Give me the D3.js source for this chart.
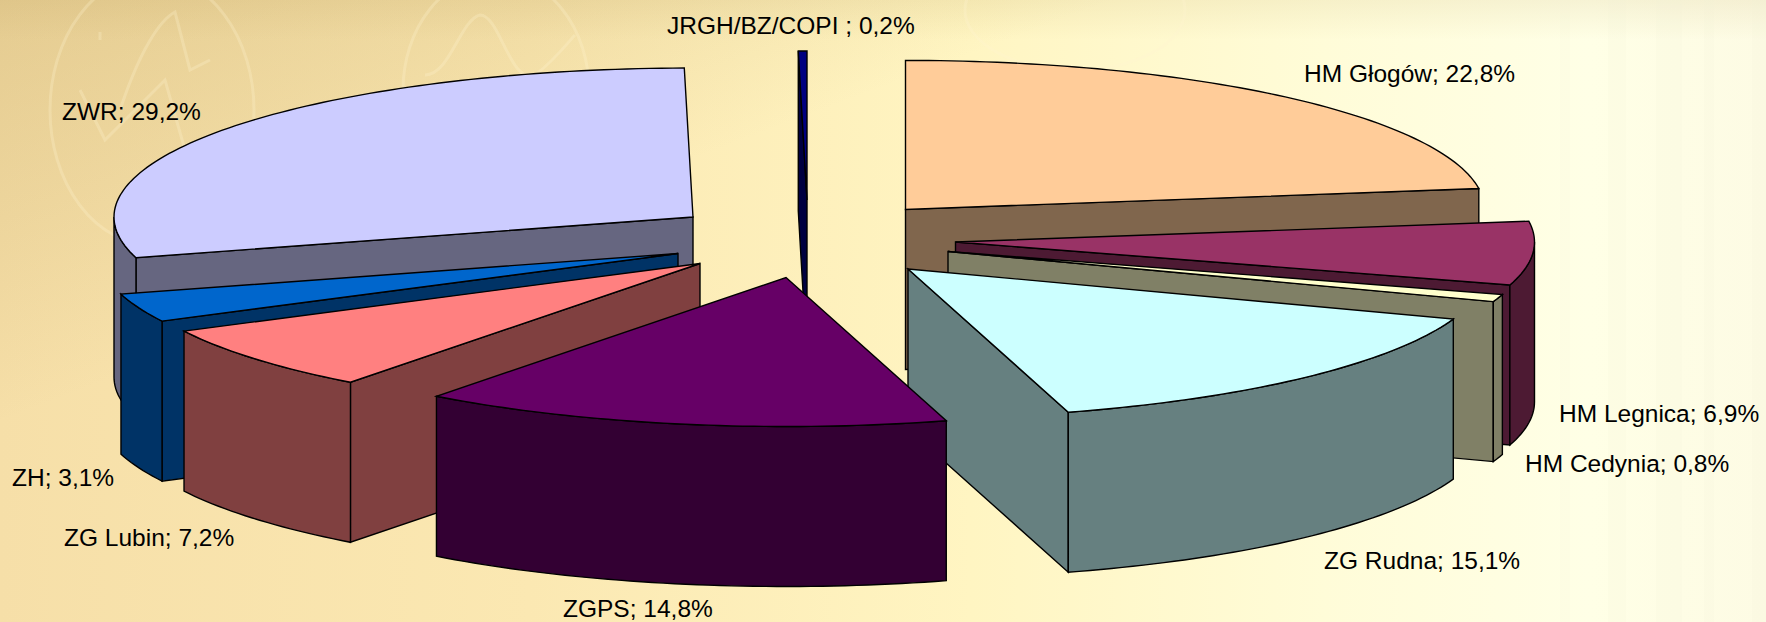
<!DOCTYPE html>
<html>
<head>
<meta charset="utf-8">
<script src="https://d3js.org/d3.v7.min.js"></script>
<style>
  html, body { margin: 0; padding: 0; overflow: hidden; }
  svg { display: block; }
</style>
</head>
<body>
<script>
const width = 1766;
const height = 622;

// chart data
const categories = ['HM Głogów', 'HM Legnica', 'HM Cedynia', 'ZG Rudna', 'ZGPS', 'ZG Lubin', 'ZH', 'ZWR', 'JRGH/BZ/COPI '];
const values = [22.8, 6.9, 0.8, 15.1, 14.8, 7.2, 3.1, 29.2, 0.24];
const topColors = ['#FFCC99', '#993366', '#FFFFCC', '#CCFFFF', '#660066', '#FF8080', '#0066CC', '#CCCCFF', '#000080'];

// where each exploded slice has its tip
const tipX = [905.5, 955.5, 948, 908, 786, 700, 678, 693, 807];
const tipY = [209.4, 242, 251.5, 269, 277.5, 263.5, 253.5, 217, 200];

// label placement (left edge, baseline)
const labelX = [1304, 1559, 1525, 1324, 563, 64, 12, 62, 667];
const labelY = [82, 422, 472, 569, 617, 546, 486, 120, 34];

const radiusX = d3.scaleLinear().domain([-1, 1]).range([-579, 579]);
const radiusY = d3.scaleLinear().domain([-1, 1]).range([-149, 149]);
const pieDepth = 160;
const percent = d3.format('.1f');

let svg = d3
  .select('body')
  .append('svg')
  .attr('width', width)
  .attr('height', height);

const defs = svg.append('defs');

// background: tan on the left going to pale yellow on the right
const bgH = defs.append('linearGradient').attr('id', 'bgH');
[[0, '#F6DFA8'], [0.3, '#FBE8B2'], [0.55, '#FFF5C2'], [0.75, '#FFFCD8'], [0.9, '#FFFFE6'], [1, '#FDFBE4']].forEach(function (s) {
  bgH.append('stop').attr('offset', s[0]).attr('stop-color', s[1]);
});
// darker corner at the top left
const bgC = defs
  .append('linearGradient')
  .attr('id', 'bgC')
  .attr('gradientUnits', 'userSpaceOnUse')
  .attr('x1', 0)
  .attr('y1', 0)
  .attr('x2', 140)
  .attr('y2', 370);
[[0, 0.28], [0.5, 0.15], [1, 0]].forEach(function (s) {
  bgC.append('stop').attr('offset', s[0]).attr('stop-color', '#B89A55').attr('stop-opacity', s[1]);
});
// thin darker band along the top edge
const bgT = defs.append('linearGradient').attr('id', 'bgT').attr('x2', 0).attr('y2', 1);
[[0, 0.12], [1, 0]].forEach(function (s) {
  bgT.append('stop').attr('offset', s[0]).attr('stop-color', '#B89A55').attr('stop-opacity', s[1]);
});
svg.append('rect').attr('width', width).attr('height', height).attr('fill', 'url(#bgH)');
svg.append('rect').attr('width', width).attr('height', height).attr('fill', 'url(#bgC)');
svg.append('rect').attr('width', width).attr('height', 40).attr('fill', 'url(#bgT)');

// faint watermark in the slide background
const mark = svg.append('g').attr('fill', 'none').attr('stroke', '#FFF6D0').attr('stroke-opacity', 0.28).attr('stroke-width', 3);
mark.append('ellipse').attr('cx', 152).attr('cy', 110).attr('rx', 102).attr('ry', 135);
mark.append('ellipse').attr('cx', 496).attr('cy', 90).attr('rx', 93).attr('ry', 115);
mark.append('path').attr('d', 'M100,32 L100,40 M120,110 C140,50 160,20 175,12 L190,70 L210,60 M80,90 L105,140 L165,80 L185,150');
mark.append('path').attr('d', 'M425,75 C450,75 460,20 480,15 C500,15 510,85 535,75 C555,60 570,40 575,35');
mark.append('ellipse').attr('cx', 1075).attr('cy', 10).attr('rx', 110).attr('ry', 60);

// faint vertical streaks on the right side
const streaks = svg.append('g').attr('fill', '#F2F0D4').attr('fill-opacity', 0.15);
d3.range(1560, 1766, 48).forEach(function (x, i) {
  streaks.append('rect').attr('x', x).attr('y', 0).attr('width', 10 + (i % 3) * 8).attr('height', height);
});

const pie = d3.pie().sort(null).startAngle(0).endAngle(2 * Math.PI);
const slices = pie(values).map(function (d, i) {
  return { i: i, a0: d.startAngle, a1: d.endAngle, cx: tipX[i], cy: tipY[i] };
});

const line = d3.line();
const rimX = (s, a) => s.cx + radiusX(Math.sin(a));
const rimY = (s, a) => s.cy + radiusY(-Math.cos(a));

function rimPoints(s, a0, a1, drop) {
  const n = Math.max(2, Math.ceil((a1 - a0) / 0.02));
  return d3.range(n + 1).map(function (k) {
    const a = a0 + ((a1 - a0) * k) / n;
    return [rimX(s, a), rimY(s, a) + drop];
  });
}

function radialSide(s, a) {
  return [[s.cx, s.cy], [rimX(s, a), rimY(s, a)], [rimX(s, a), rimY(s, a) + pieDepth], [s.cx, s.cy + pieDepth]];
}

// back to front, the slices further down the page cover the others
const order = slices.slice().sort((a, b) => a.cy - b.cy);

order.forEach(function (s) {
  const c = d3.rgb(topColors[s.i]);
  const side = d3.rgb(c.r / 2, c.g / 2, c.b / 2).formatHex();
  const g = svg
    .append('g')
    .attr('stroke', '#000')
    .attr('stroke-width', 1.4)
    .attr('stroke-linejoin', 'miter');

  // the cut faces, only when they look toward the viewer
  if (Math.sin(s.a0) < 0) {
    g.append('path').attr('d', line(radialSide(s, s.a0)) + 'Z').attr('fill', side);
  }
  if (Math.sin(s.a1) > 0) {
    g.append('path').attr('d', line(radialSide(s, s.a1)) + 'Z').attr('fill', side);
  }

  // the outer wall, front half of the ellipse only
  const w0 = Math.max(s.a0, Math.PI / 2);
  const w1 = Math.min(s.a1, (3 * Math.PI) / 2);
  if (w1 > w0) {
    const wall = rimPoints(s, w0, w1, 0).concat(rimPoints(s, w0, w1, pieDepth).reverse());
    g.append('path').attr('d', line(wall) + 'Z').attr('fill', side);
  }

  // top face
  const top = [[s.cx, s.cy]].concat(rimPoints(s, s.a0, s.a1, 0));
  g.append('path').attr('d', line(top) + 'Z').attr('fill', topColors[s.i]);
});

// add the text
svg
  .append('g')
  .selectAll('text')
  .data(categories)
  .enter()
  .append('text')
  .attr('x', (d, i) => labelX[i])
  .attr('y', (d, i) => labelY[i])
  .style('font', '24.5px "Liberation Sans", Arial, sans-serif')
  .style('fill', '#000')
  .text(function (d, i) {
    return d + '; ' + percent(values[i]).replace('.', ',') + '%';
  });
</script>
</body>
</html>
